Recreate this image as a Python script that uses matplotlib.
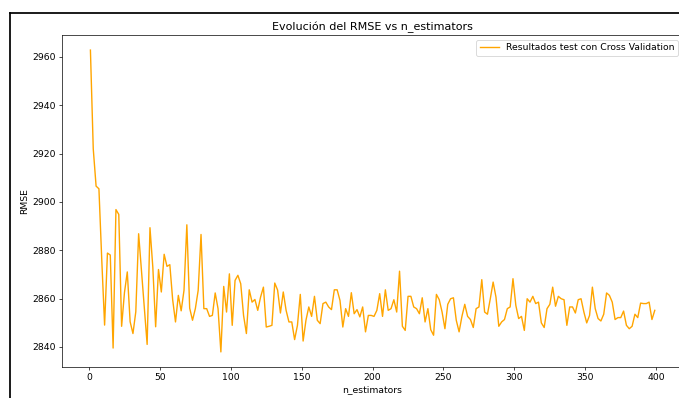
import matplotlib
matplotlib.use("Agg")
import matplotlib.pyplot as plt
from matplotlib.lines import Line2D
import numpy as np

n_estimators = list(range(1, 401, 2))
rmse = [
    2962.8, 2921.9, 2906.5, 2905.4, 2876.0, 2849.0, 2878.8, 2878.0, 2839.5, 2896.8,
    2894.8, 2848.5, 2862.4, 2871.0, 2850.4, 2845.5, 2854.5, 2886.8, 2871.7, 2856.5,
    2841.0, 2889.3, 2873.0, 2848.3, 2872.0, 2862.7, 2878.3, 2873.3, 2874.0, 2859.5,
    2850.3, 2861.3, 2854.9, 2863.4, 2890.5, 2856.0, 2851.0, 2855.8, 2863.4, 2886.5,
    2855.8, 2855.8, 2852.6, 2853.0, 2862.3, 2855.8, 2837.9, 2865.0, 2854.4, 2870.2,
    2848.9, 2867.5, 2869.6, 2866.1, 2853.0, 2845.5, 2863.6, 2858.5, 2859.6, 2855.1,
    2860.6, 2864.7, 2848.2, 2848.5, 2848.9, 2866.4, 2863.5, 2854.0, 2862.7, 2855.1,
    2850.3, 2850.3, 2843.0, 2848.9, 2861.7, 2842.4, 2851.0, 2856.5, 2852.6, 2860.9,
    2851.0, 2849.6, 2857.9, 2858.5, 2856.5, 2855.4, 2863.6, 2863.6, 2859.2, 2848.2,
    2855.8, 2852.6, 2862.4, 2853.7, 2855.4, 2852.4, 2856.5, 2846.2, 2853.0, 2853.0,
    2852.6, 2855.1, 2862.0, 2852.6, 2863.6, 2855.1, 2855.8, 2859.5, 2854.4, 2871.3,
    2848.5, 2846.8, 2860.9, 2860.9, 2856.5, 2855.8, 2853.7, 2860.3, 2850.3, 2855.8,
    2847.1, 2844.8, 2861.7, 2859.5, 2854.4, 2847.5, 2857.6, 2859.9, 2860.3, 2851.0,
    2846.2, 2852.6, 2857.6, 2852.6, 2851.3, 2848.0, 2855.8, 2856.5, 2867.8, 2854.4,
    2853.5, 2859.9, 2866.8, 2860.6, 2848.5, 2850.3, 2851.3, 2855.8, 2856.5, 2868.2,
    2857.2, 2851.7, 2852.6, 2846.8, 2859.9, 2858.5, 2860.9, 2857.9, 2858.5, 2849.9,
    2848.0, 2855.8, 2857.6, 2864.7, 2856.8, 2860.9, 2859.9, 2859.5, 2848.9, 2856.5,
    2856.5, 2854.0, 2859.5, 2859.9, 2854.4, 2849.9, 2853.0, 2864.7, 2855.8, 2851.7,
    2850.7, 2853.5, 2862.3, 2861.3, 2858.5, 2851.3, 2852.1, 2852.1, 2854.8, 2848.9,
    2847.5, 2848.5, 2853.5, 2852.1, 2858.1, 2857.9, 2857.9, 2858.5, 2851.3, 2855.1,
]
series_label = "Resultados test con Cross Validation"
title = "Evolución del RMSE vs n_estimators"
xlabel = "n_estimators"
ylabel = "RMSE"

W, H = 679, 398
DPI = 62.6
fs = 10.7
fig = plt.figure(figsize=(W / DPI, H / DPI), dpi=DPI, facecolor="white")
ax = fig.add_axes([62.2 / W, 31 / H, (683 - 62.2) / W, 332 / H])
ax.plot(n_estimators, rmse, color="orange", linewidth=1.6, label=series_label)
ax.set_title(title, fontsize=12.8)
ax.set_xlabel(xlabel, fontsize=fs)
ax.set_ylabel(ylabel, fontsize=fs)
ax.tick_params(labelsize=fs)
ax.legend(loc="upper right", fontsize=fs)

# screenshot frame
fig.add_artist(Line2D([10 / W, 10 / W], [0, 1 - 13 / H], color="black", linewidth=2,
                      transform=fig.transFigure))
fig.add_artist(Line2D([10 / W, 1], [1 - 13 / H, 1 - 13 / H], color="black", linewidth=2,
                      transform=fig.transFigure))

fig.savefig("out.png", dpi=DPI, facecolor="white")
